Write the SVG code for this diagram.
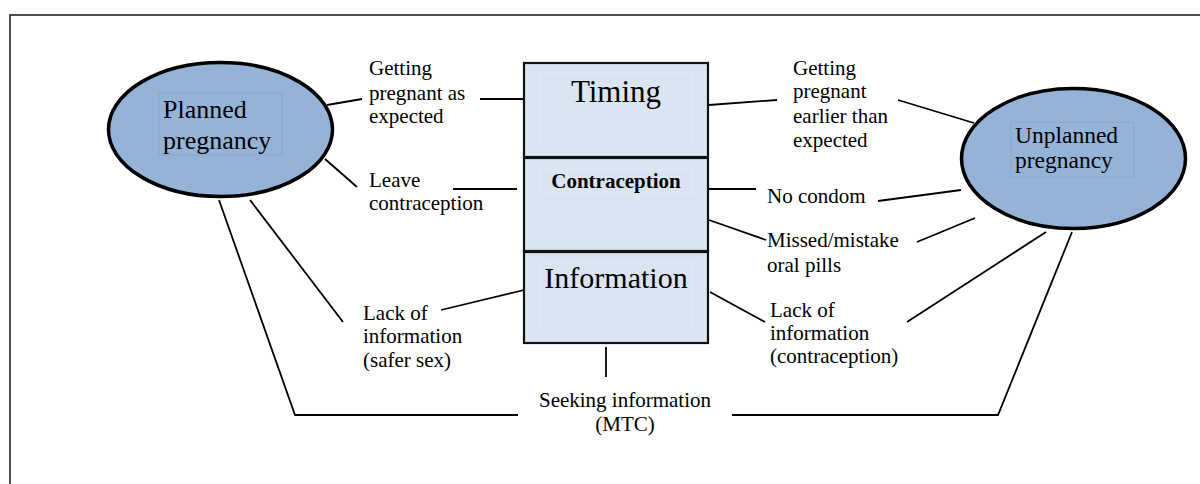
<svg xmlns="http://www.w3.org/2000/svg" width="1200" height="484" viewBox="0 0 1200 484">
  <style>
    .frame { fill: none; stroke: #222; stroke-width: 1.6; }
    .oval { fill: #95b3d7; stroke: #000; stroke-width: 3.5; }
    .oval-box { fill: none; stroke: #8aa6c9; stroke-width: 0.8; }
    .panel { fill: #dbe5f1; stroke: #111; stroke-width: 2.2; }
    .panel-box { fill: none; stroke: #e6edf6; stroke-width: 0.8; }
    .link { fill: none; stroke: #000; stroke-width: 1.8; }
    text { font-family: "Liberation Serif", "Times New Roman", serif; fill: #000; }
    .lbl { font-size: 21px; }
    .title { font-size: 30px; text-anchor: middle; }
    .bold { font-size: 21px; font-weight: bold; text-anchor: middle; }
    .mid { text-anchor: middle; }
  </style>

  <rect width="1200" height="484" fill="#fff"/>
  <rect class="frame" x="10" y="15" width="1200" height="480"/>

  <!-- connectors -->
  <g id="connectors">
    <line class="link" x1="327" y1="105" x2="362" y2="99"/>
    <line class="link" x1="480" y1="99" x2="524" y2="99"/>
    <line class="link" x1="325" y1="159" x2="357" y2="187"/>
    <line class="link" x1="453" y1="189" x2="517" y2="189"/>
    <line class="link" x1="250" y1="200" x2="343" y2="322"/>
    <line class="link" x1="441" y1="310" x2="524" y2="290"/>
    <polyline class="link" points="219,200 295,415 518,415"/>
    <line class="link" x1="606" y1="347" x2="606" y2="377"/>
    <polyline class="link" points="732,415 998,415 1072,232"/>
    <line class="link" x1="709" y1="105" x2="777" y2="100"/>
    <line class="link" x1="898" y1="100" x2="974" y2="123"/>
    <line class="link" x1="708" y1="189" x2="756" y2="189"/>
    <line class="link" x1="878" y1="201" x2="961" y2="190"/>
    <line class="link" x1="709" y1="220" x2="766" y2="240"/>
    <line class="link" x1="917" y1="242" x2="975" y2="218"/>
    <line class="link" x1="710" y1="292" x2="765" y2="322"/>
    <line class="link" x1="907" y1="322" x2="1046" y2="232"/>
  </g>

  <!-- planned pregnancy -->
  <g id="planned">
    <ellipse class="oval" cx="220.5" cy="129.5" rx="112" ry="67"/>
    <rect class="oval-box" x="159" y="93" width="123" height="62"/>
    <text x="163" y="118" style="font-size:26px">Planned</text>
    <text x="163" y="149" style="font-size:26px">pregnancy</text>
  </g>

  <!-- unplanned pregnancy -->
  <g id="unplanned">
    <ellipse class="oval" cx="1073.5" cy="158.5" rx="112" ry="70"/>
    <rect class="oval-box" x="1011" y="122" width="123" height="55"/>
    <text x="1015" y="143" style="font-size:23.5px">Unplanned</text>
    <text x="1015" y="168" style="font-size:23.5px">pregnancy</text>
  </g>

  <!-- central stack -->
  <g id="timing">
    <rect class="panel" x="524" y="63" width="184" height="94"/>
    <rect class="panel-box" x="540" y="73" width="153" height="73"/>
    <text class="title" x="616" y="102" style="font-size:31px">Timing</text>
  </g>
  <g id="contraception">
    <rect class="panel" x="524" y="158" width="184" height="93"/>
    <rect class="panel-box" x="540" y="170" width="153" height="23"/>
    <text class="bold" x="616" y="188">Contraception</text>
  </g>
  <g id="information">
    <rect class="panel" x="524" y="252" width="184" height="91"/>
    <rect class="panel-box" x="540" y="262" width="153" height="69"/>
    <text class="title" x="616" y="288">Information</text>
  </g>

  <!-- factor labels -->
  <g id="as-expected">
    <text class="lbl" x="369" y="75">Getting</text>
    <text class="lbl" x="369" y="100">pregnant as</text>
    <text class="lbl" x="369" y="123">expected</text>
  </g>
  <g id="leave-contraception">
    <text class="lbl" x="369" y="187">Leave</text>
    <text class="lbl" x="369" y="210">contraception</text>
  </g>
  <g id="lack-safer-sex">
    <text class="lbl" x="363" y="320">Lack of</text>
    <text class="lbl" x="363" y="343">information</text>
    <text class="lbl" x="363" y="367">(safer sex)</text>
  </g>
  <g id="earlier-than-expected">
    <text class="lbl" x="793" y="75">Getting</text>
    <text class="lbl" x="793" y="98">pregnant</text>
    <text class="lbl" x="793" y="123">earlier than</text>
    <text class="lbl" x="793" y="147">expected</text>
  </g>
  <g id="no-condom">
    <text class="lbl" x="767" y="203">No condom</text>
  </g>
  <g id="missed-pills">
    <text class="lbl" x="767" y="247">Missed/mistake</text>
    <text class="lbl" x="767" y="272">oral pills</text>
  </g>
  <g id="lack-contraception">
    <text class="lbl" x="770" y="317">Lack of</text>
    <text class="lbl" x="770" y="340">information</text>
    <text class="lbl" x="770" y="363">(contraception)</text>
  </g>
  <g id="seeking-information">
    <text class="lbl mid" x="625" y="407">Seeking information</text>
    <text class="lbl mid" x="625" y="431">(MTC)</text>
  </g>
</svg>
